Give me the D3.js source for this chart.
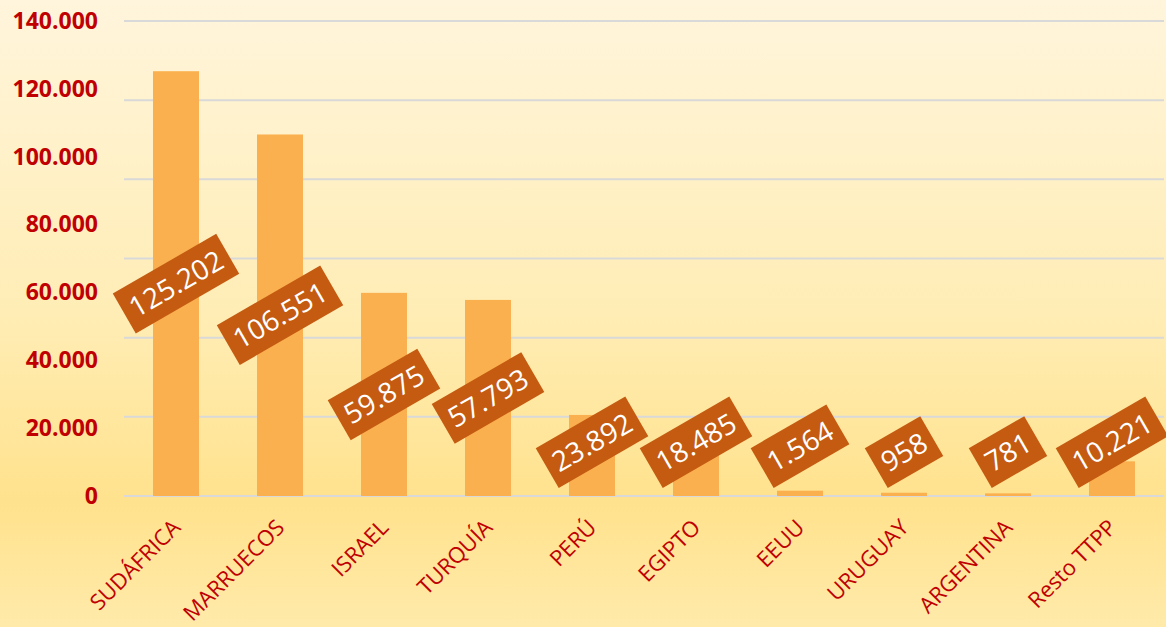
<!DOCTYPE html>
<html>
<head>
<meta charset="utf-8">
<script src="https://cdn.jsdelivr.net/npm/d3@7"></script>
<style>
  html, body { margin: 0; padding: 0; }
  body { width: 1166px; height: 627px; overflow: hidden; }
</style>
</head>
<body>
<div id="chart"></div>
<script>
const countries = ["SUDÁFRICA", "MARRUECOS", "ISRAEL", "TURQUÍA", "PERÚ", "EGIPTO", "EEUU", "URUGUAY", "ARGENTINA", "Resto TTPP"];
const values = [125202, 106551, 59875, 57793, 23892, 18485, 1564, 958, 781, 10221];
const yTicks = [0, 20000, 40000, 60000, 80000, 100000, 120000, 140000];
const yMax = 140000;

const W = 1166, H = 627;
const margin = { top: 21, right: 2, bottom: 131, left: 124 };

const es = d3.formatLocale({ decimal: ",", thousands: ".", grouping: [3], currency: ["", "€"] });
const fmt = es.format(",.0f");

const svg = d3.select("#chart").append("svg").attr("width", W).attr("height", H);

// background gradient
const defs = svg.append("defs");
const grad = defs.append("linearGradient").attr("id", "bg").attr("x1", 0).attr("y1", 0).attr("x2", 0).attr("y2", 1);
grad.append("stop").attr("offset", "0%").attr("stop-color", "#FFF5DC");
grad.append("stop").attr("offset", "50%").attr("stop-color", "#FFEDB5");
grad.append("stop").attr("offset", "80%").attr("stop-color", "#FFE28D");
grad.append("stop").attr("offset", "100%").attr("stop-color", "#FFEAAA");
svg.append("rect").attr("width", W).attr("height", H).attr("fill", "url(#bg)");

const x = d3.scaleBand().domain(countries).range([margin.left, W - margin.right]).paddingInner(0.558).paddingOuter(0.279);
const y = d3.scaleLinear().domain([0, yMax]).range([H - margin.bottom, margin.top]);

// gridlines (6 intervals)
svg.append("g")
  .selectAll("line")
  .data(d3.range(0, 7).map(i => i * yMax / 6))
  .join("line")
  .attr("x1", margin.left).attr("x2", W - margin.right)
  .attr("y1", d => y(d)).attr("y2", d => y(d))
  .attr("stroke", "#D9D9D9").attr("stroke-width", 2);

// y axis labels
const yAxis = svg.append("g")
  .attr("transform", `translate(${margin.left - 26},0)`)
  .call(d3.axisLeft(y).tickValues(yTicks).tickFormat(fmt).tickSize(0).tickPadding(0));
yAxis.select(".domain").remove();
yAxis.selectAll("text")
  .attr("fill", "#C00000")
  .style("font-family", "'Open Sans', sans-serif")
  .style("font-weight", "bold")
  .style("font-size", "23px");

// bars
svg.append("g")
  .selectAll("rect")
  .data(values)
  .join("rect")
  .attr("x", (d, i) => x(countries[i]))
  .attr("width", x.bandwidth())
  .attr("y", d => y(d))
  .attr("height", d => y(0) - y(d))
  .attr("fill", "#FAB04F");

// x labels
svg.append("g")
  .selectAll("text")
  .data(countries)
  .join("text")
  .attr("transform", d => `translate(${x(d) + x.bandwidth() / 2 - 5},${y(0) + 22}) rotate(-45)`)
  .attr("text-anchor", "end")
  .attr("dy", "0.7em")
  .attr("fill", "#C00000")
  .style("font-family", "'Open Sans', sans-serif")
  .style("font-size", "22px")
  .text(d => d);

// data labels: rotated boxes centered at bar middle, kept above the axis
const labelG = svg.append("g");
const angle = -30;
const rad = Math.abs(angle) * Math.PI / 180;
const boxH = 46, padX = 8;
const floorY = y(0) - 8;

values.forEach((v, i) => {
  const g = labelG.append("g");
  const t = g.append("text")
    .attr("text-anchor", "middle")
    .attr("dy", "0.36em")
    .attr("fill", "#FFFFFF")
    .style("font-family", "'Open Sans', sans-serif")
    .style("font-size", "28px")
    .text(fmt(v));
  const tw = t.node().getComputedTextLength();
  const bw = tw + padX * 2;
  g.insert("rect", "text")
    .attr("x", -bw / 2).attr("y", -boxH / 2)
    .attr("width", bw).attr("height", boxH)
    .attr("fill", "#C55A11");
  const half = (bw / 2) * Math.sin(rad) + (boxH / 2) * Math.cos(rad);
  const cx = x(countries[i]) + x.bandwidth() / 2;
  const mid = (y(v) + y(0)) / 2;
  const cy = Math.min(mid, floorY - half);
  g.attr("transform", `translate(${cx},${cy}) rotate(${angle})`);
});
</script>
</body>
</html>
